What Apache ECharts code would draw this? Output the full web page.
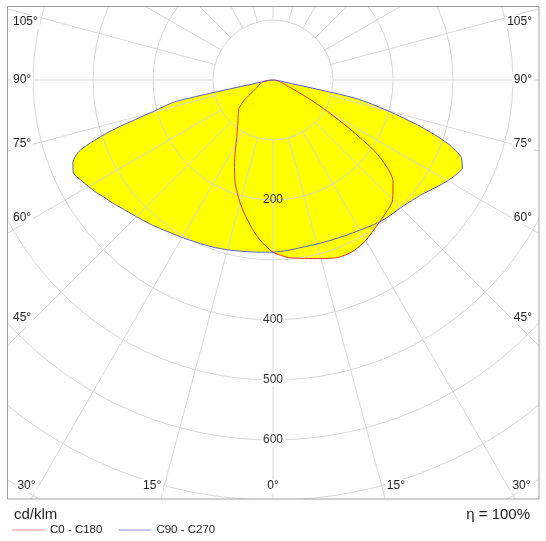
<!DOCTYPE html>
<html><head><meta charset="utf-8">
<script src="https://cdn.jsdelivr.net/npm/echarts@6/dist/echarts.min.js"></script>
<style>html,body{margin:0;padding:0;background:#fff}#c{width:546px;height:541px}</style>
</head><body><div id="c"></div>
<script>
// gamma angles (deg from nadir) and intensities (cd/klm)
const gamma = [0,5,10,15,20,25,30,35,40,45,50,52.5,55,57.5,60,62.5,65,67.5,70,72.5,75,77.5,80,85,90];
const c180 = [287,266,239,212,184,152,123,104,91,82,74,67,58,48,39,34,30,27,25,23,22,20,19,10,0];
const c0   = [287,297,302,308,315,315,309,299,291,282,261,240,207,152,105,68,40,28,20,15,12,9,7,3,0];
const c90  = [287,288,290,293,296,299,303,308,315,322,331,337,342,349,355,361,367,361,342,285,212,165,20,5,0];
const c270 = [287,285,283,283,284,286,289,294,298,301,308,313,320,328,336,343,348,340,310,258,198,140,20,5,0];
const angleTicks = [105,90,75,60,45];
const bottomTicks = [30,15,0];
const radiusTicks = [200,400,500,600];
const seriesNames = ['C0 - C180','C90 - C270'];

const CX = 273, CY = 80, RPX = 540, RMAX = 900, RSTEP = 100;
const SMOOTH = 0.25;
const FONT = '"Liberation Sans", Arial, sans-serif';
const GRID = '#d9d9d9', RED = '#e8312c', BLUE = '#5b5bd6', TXT = '#1e1e1e', FILL = '#ffff00';
const FRAME = {x1: 7.5, y1: 6.5, x2: 539, y2: 499};

function curve(left, right) {
  const pts = [];
  for (let i = gamma.length - 1; i >= 0; i--) pts.push([left[i], gamma[i]]);
  for (let i = 1; i < gamma.length; i++) pts.push([right[i], 360 - gamma[i]]);
  return pts;
}
const redPts = curve(c180, c0);
const bluePts = curve(c90, c270);

const graphics = [];
[[0,0,546,FRAME.y1],[0,FRAME.y2,546,541-FRAME.y2],[0,0,FRAME.x1,541],[FRAME.x2,0,546-FRAME.x2,541]].forEach(r => {
  graphics.push({type:'rect', z:100, silent:true, shape:{x:r[0],y:r[1],width:r[2],height:r[3]}, style:{fill:'#fff'}});
});
graphics.push({type:'rect', z:101, silent:true, shape:{x:FRAME.x1,y:FRAME.y1,width:FRAME.x2-FRAME.x1,height:FRAME.y2-FRAME.y1}, style:{fill:'none', stroke:'#a0a0a0', lineWidth:1}});

function lbl(text, x, y, align) {
  graphics.push({type:'text', z:102, silent:true, style:{text:text, x:x, y:y, align:align, verticalAlign:'middle', fill:TXT, font:'12px ' + FONT, backgroundColor:'#fff', padding:[1,2]}});
}
angleTicks.forEach(g => {
  const t = Math.tan(g * Math.PI / 180);
  let y = (g === 90) ? CY : CY + (CX - 35) / t;
  y = Math.max(y, 22);
  lbl(g + '°', 11, y, 'left');
  lbl(g + '°', 534, y, 'right');
});
const yb = 486;
bottomTicks.forEach(g => {
  const dx = (yb - CY) * Math.tan(g * Math.PI / 180);
  if (g === 0) { lbl('0°', CX, yb, 'center'); return; }
  lbl(g + '°', CX - dx - 1, yb, 'right');
  lbl(g + '°', CX + dx + 3, yb, 'left');
});
graphics.push({type:'text', z:102, style:{text:'cd/klm', x:14, y:515, verticalAlign:'middle', fill:TXT, font:'15px ' + FONT}});
graphics.push({type:'text', z:102, style:{text:'η = 100%', x:530, y:515, align:'right', verticalAlign:'middle', fill:TXT, font:'15px ' + FONT}});

const chart = echarts.init(document.getElementById('c'), null, {renderer:'canvas'});
const hidden = {axisLine:{show:false}, axisTick:{show:false}, axisLabel:{show:false}};
function fillSeries(pts) {
  return {type:'line', name:'fill', coordinateSystem:'polar', polarIndex:0, data:pts, symbol:'none', showSymbol:false,
    smooth:SMOOTH, z:1, silent:true, lineStyle:{width:0, opacity:0}, areaStyle:{color:FILL, opacity:1}};
}
function outline(name, pts, color) {
  return {type:'line', name:name, coordinateSystem:'polar', polarIndex:0, data:pts, symbol:'none', showSymbol:false,
    smooth:SMOOTH, z:5, lineStyle:{color:color, width:1}, itemStyle:{color:color}};
}
chart.setOption({
  animation: false,
  backgroundColor: '#fff',
  textStyle: {fontFamily: FONT},
  polar: [
    {center:[CX, CY], radius:[0, RPX]},
    {center:[CX, CY], radius:[RPX * RSTEP / RMAX, RPX]}
  ],
  angleAxis: [
    Object.assign({polarIndex:0, type:'value', min:0, max:360, startAngle:270, clockwise:true, splitLine:{show:false}, z:3}, hidden),
    Object.assign({polarIndex:1, type:'value', min:0, max:360, interval:15, startAngle:270, clockwise:true, splitLine:{show:true, lineStyle:{color:GRID, width:1}}, z:3}, hidden)
  ],
  radiusAxis: [
    Object.assign({polarIndex:0, type:'value', min:0, max:RMAX, interval:RSTEP, splitLine:{show:true, lineStyle:{color:GRID, width:1}}, z:3}, hidden),
    Object.assign({polarIndex:1, type:'value', min:RSTEP, max:RMAX, splitLine:{show:false}, z:3}, hidden)
  ],
  legend: {
    data: [
      {name: seriesNames[0], icon:'rect', itemStyle:{color:'#f08c8c'}},
      {name: seriesNames[1], icon:'rect', itemStyle:{color:'#8f8fe8'}}
    ],
    left: 12, top: 524, padding: 0, itemWidth: 33, itemHeight: 1, itemGap: 16,
    selectedMode: false, z: 200,
    textStyle: {fontSize: 11.5, color: TXT, fontFamily: FONT}
  },
  graphic: graphics,
  series: [
    fillSeries(bluePts),
    fillSeries(redPts),
    outline(seriesNames[0], redPts, RED),
    outline(seriesNames[1], bluePts, BLUE),
    {type:'scatter', coordinateSystem:'polar', polarIndex:0, z:6, silent:true, symbolSize:1,
     itemStyle:{color:'rgba(0,0,0,0)'},
     data: radiusTicks.map(v => ({value:[v, 0], label: v === 200 ? {backgroundColor:'transparent'} : {}})),
     label:{show:true, position:'inside', formatter: p => String(p.value[0]), color:'#000', fontSize:12, fontFamily:FONT, backgroundColor:'#fff', padding:[1,2]}}
  ]
});
</script></body></html>
